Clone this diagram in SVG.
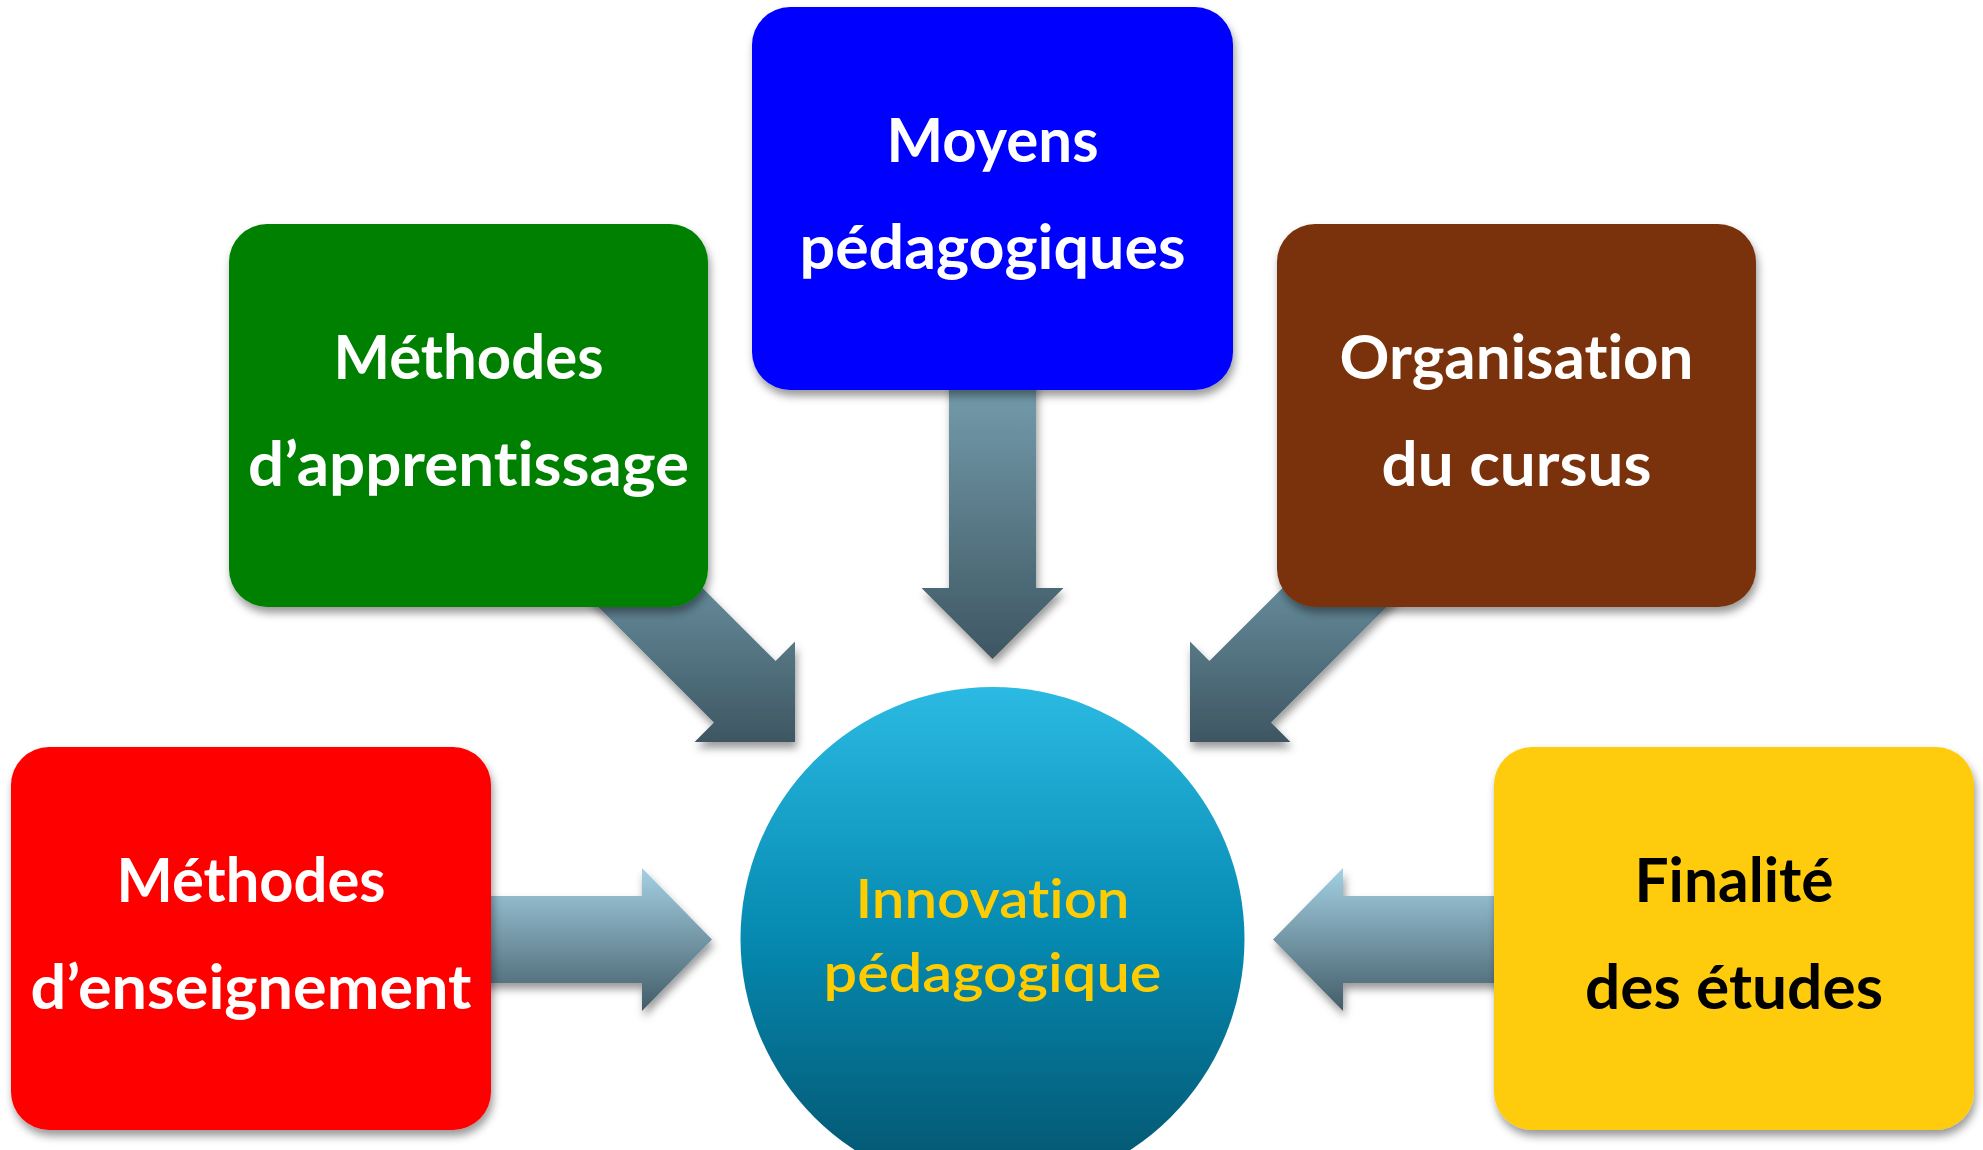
<svg xmlns="http://www.w3.org/2000/svg" width="1983" height="1150" viewBox="0 0 1983 1150">
  <defs>
    <filter id="shadow" x="-10%" y="-10%" width="125%" height="130%">
      <feDropShadow dx="2" dy="6" stdDeviation="4" flood-color="#000" flood-opacity="0.4"/>
    </filter>
    <linearGradient id="gDown" gradientUnits="userSpaceOnUse" x1="0" y1="390" x2="0" y2="659">
      <stop offset="0" stop-color="#739bab"/>
      <stop offset="1" stop-color="#3e5662"/>
    </linearGradient>
    <linearGradient id="gDiag" gradientUnits="userSpaceOnUse" x1="0" y1="560" x2="0" y2="742">
      <stop offset="0" stop-color="#6b93a3"/>
      <stop offset="1" stop-color="#3e5662"/>
    </linearGradient>
    <linearGradient id="gHoriz" gradientUnits="userSpaceOnUse" x1="0" y1="868" x2="0" y2="1011">
      <stop offset="0" stop-color="#a4d1e4"/>
      <stop offset="1" stop-color="#435c68"/>
    </linearGradient>
    <linearGradient id="gCircle" x1="0" y1="0" x2="0" y2="1">
      <stop offset="0" stop-color="#2bbae3"/>
      <stop offset="0.5" stop-color="#0589b0"/>
      <stop offset="1" stop-color="#04526b"/>
    </linearGradient>
    <style>
      .box { filter: url(#shadow); }
      .arrow { filter: url(#shadow); }
      text { font-variant-ligatures: none; font-feature-settings: "liga" 0, "clig" 0, "dlig" 0; }
      .lbl { font-family: Lato, "Liberation Sans", sans-serif; font-weight: 700; font-size: 61px; text-anchor: middle; }
      .white { fill: #ffffff; }
      .black { fill: #000000; }
      .core { font-family: Lato, "Liberation Sans", sans-serif; font-weight: 600; font-size: 54px; text-anchor: middle; fill: #ffcc00; }
    </style>
  </defs>
  <rect width="1983" height="1150" fill="#ffffff"/>

  <g id="connectors">
    <polygon class="arrow" fill="url(#gDown)" points="949,300 1036,300 1036,588 1063.5,588 992.5,659 921.5,588 949,588"/>
    <polygon class="arrow" fill="url(#gDiag)" points="641.9,527.4 775.6,661 795,641.6 795,742 694.6,742 714,722.6 580.4,588.9"/>
    <polygon class="arrow" fill="url(#gDiag)" points="1343.1,527.4 1209.4,661 1190,641.6 1190,742 1290.4,742 1271,722.6 1404.6,588.9"/>
    <polygon class="arrow" fill="url(#gHoriz)" points="440,896 642,896 642,868 712,939.5 642,1011 642,983 440,983"/>
    <polygon class="arrow" fill="url(#gHoriz)" points="1545,896 1343,896 1343,868 1273,939.5 1343,1011 1343,983 1545,983"/>
  </g>

  <g id="node-innovation">
    <circle cx="992.5" cy="939" r="252" fill="url(#gCircle)"/>
    <text class="core" x="992.5" y="918" textLength="274" lengthAdjust="spacingAndGlyphs">Innovation</text>
    <text class="core" x="992.5" y="992" textLength="338" lengthAdjust="spacingAndGlyphs">pédagogique</text>
  </g>

  <g id="node-moyens">
    <rect class="box" x="752" y="7" width="481" height="383" rx="38" fill="#0000ff"/>
    <text class="lbl white" x="992.5" y="162" textLength="212" lengthAdjust="spacingAndGlyphs">Moyens</text>
    <text class="lbl white" x="992.5" y="269" textLength="386" lengthAdjust="spacingAndGlyphs">pédagogiques</text>
  </g>

  <g id="node-apprentissage">
    <rect class="box" x="229" y="224" width="479" height="383" rx="38" fill="#008000"/>
    <text class="lbl white" x="468.5" y="379" textLength="270" lengthAdjust="spacingAndGlyphs">Méthodes</text>
    <text class="lbl white" x="468.5" y="486" textLength="441" lengthAdjust="spacingAndGlyphs">d’apprentissage</text>
  </g>

  <g id="node-cursus">
    <rect class="box" x="1277" y="224" width="479" height="383" rx="38" fill="#7a320e"/>
    <text class="lbl white" x="1516.5" y="379" textLength="354" lengthAdjust="spacingAndGlyphs">Organisation</text>
    <text class="lbl white" x="1516.5" y="486" textLength="270" lengthAdjust="spacingAndGlyphs">du cursus</text>
  </g>

  <g id="node-enseignement">
    <rect class="box" x="11" y="747" width="480" height="383" rx="38" fill="#ff0000"/>
    <text class="lbl white" x="251" y="902" textLength="269" lengthAdjust="spacingAndGlyphs">Méthodes</text>
    <text class="lbl white" x="251" y="1009" textLength="441" lengthAdjust="spacingAndGlyphs">d’enseignement</text>
  </g>

  <g id="node-finalite">
    <rect class="box" x="1494" y="747" width="480" height="383" rx="38" fill="#fecc0a"/>
    <text class="lbl black" x="1734" y="902" textLength="199" lengthAdjust="spacingAndGlyphs">Finalité</text>
    <text class="lbl black" x="1734" y="1009" textLength="298" lengthAdjust="spacingAndGlyphs">des études</text>
  </g>
</svg>
